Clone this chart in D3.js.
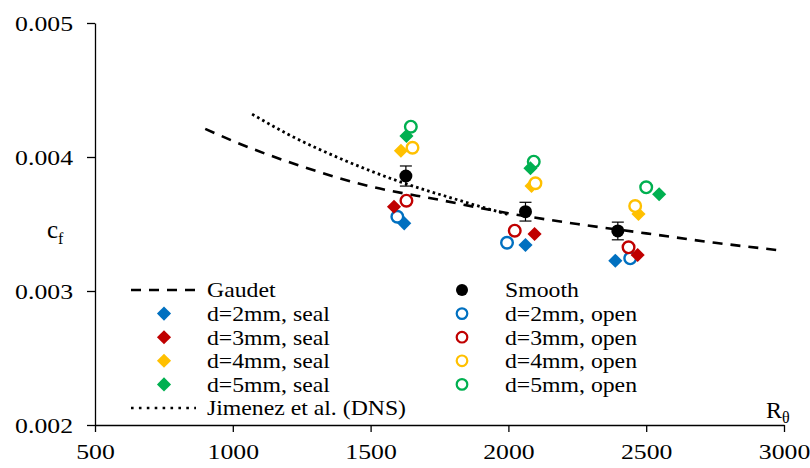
<!DOCTYPE html>
<html>
<head>
<meta charset="utf-8">
<script src="https://cdn.jsdelivr.net/npm/d3@7"></script>
<style>
  body { margin: 0; background: #fff; }
  svg text { font-family: "Liberation Serif", "DejaVu Serif", "Times New Roman", serif; fill: #000; }
</style>
</head>
<body>
<div id="container"></div>
<script>
/* CONSTANTS AND GLOBALS */
const width = 810, height = 468
const margin = { top: 23, bottom: 43, left: 95, right: 26 }

/* DATA */
const xTicks = [500, 1000, 1500, 2000, 2500, 3000]
const yTicks = [0.002, 0.003, 0.004, 0.005]

const gaudetRe = [900, 1000, 1250, 1500, 1750, 2000, 2250, 2500, 2750, 3000]
const gaudetCf = [0.00421, 0.00412, 0.00393, 0.00378, 0.00368, 0.00358, 0.00350, 0.00343, 0.00336, 0.00330]

const jimenezRe = [1070, 1200, 1400, 1600, 1800, 2000]
const jimenezCf = [0.00432, 0.00417, 0.00398, 0.00382, 0.00369, 0.00357]

const smoothRe = [1628, 2062, 2397]
const smoothCf = [0.003858, 0.003592, 0.003448]
const smoothErr = [0.000075, 0.00007, 0.000066]

const seal2Re = [1622, 2062, 2388], seal2Cf = [0.003505, 0.003343, 0.003226]
const seal3Re = [1585, 2095, 2469], seal3Cf = [0.003629, 0.003425, 0.003269]
const seal4Re = [1610, 2084, 2472], seal4Cf = [0.004047, 0.003784, 0.003575]
const seal5Re = [1630, 2080, 2547], seal5Cf = [0.004157, 0.003916, 0.003722]

const open2Re = [1597, 1995, 2442], open2Cf = [0.003554, 0.00336, 0.003244]
const open3Re = [1630, 2023, 2436], open3Cf = [0.003674, 0.00345, 0.003326]
const open4Re = [1652, 2098, 2460], open4Cf = [0.004069, 0.003804, 0.003634]
const open5Re = [1646, 2092, 2500], open5Cf = [0.004226, 0.003965, 0.003774]

const blue = "#0070C0", red = "#C00000", yellow = "#FFC000", green = "#00B050"

const zip = (xs, ys) => xs.map((x, i) => ({ x: x, y: ys[i] }))

// the reference text is wide (Times-like); stretch texts to match
function stretch(sel, factor) {
  sel.each(function () {
    const w = this.getComputedTextLength()
    d3.select(this).attr("textLength", w * factor).attr("lengthAdjust", "spacingAndGlyphs")
  })
}

/* SCALES */
const xScale = d3.scaleLinear().domain([500, 3000]).range([margin.left, width - margin.right])
const yScale = d3.scaleLinear().domain([0.002, 0.005]).range([height - margin.bottom, margin.top])

/* HTML ELEMENTS */
const svg = d3.select("#container").append("svg")
  .attr("width", width)
  .attr("height", height)

// axes
const xAxis = d3.axisBottom(xScale).tickValues(xTicks).tickSizeInner(7).tickSizeOuter(0)
  .tickPadding(11).tickFormat(d3.format("d"))
const yAxis = d3.axisLeft(yScale).tickValues(yTicks).tickSizeInner(8).tickSizeOuter(0)
  .tickPadding(14).tickFormat(d3.format(".3f"))

svg.append("g")
  .attr("transform", `translate(0,${height - margin.bottom})`)
  .call(xAxis)
svg.append("g")
  .attr("transform", `translate(${margin.left},0)`)
  .call(yAxis)

svg.selectAll(".domain, .tick line").attr("stroke", "#000").attr("stroke-width", 1.3)
const tickText = svg.selectAll(".tick text").attr("font-size", 22).attr("fill", "#000")
stretch(tickText, 1.17)

// axis titles
const cf = svg.append("text").attr("x", 47).attr("y", 238).attr("font-size", 25)
cf.append("tspan").text("c")
cf.append("tspan").attr("font-size", 16).attr("dy", 6).text("f")

const re = svg.append("text").attr("x", 766).attr("y", 418).attr("font-size", 24)
re.append("tspan").text("R")
re.append("tspan").attr("font-size", 16).attr("dy", 5).text("θ")

// lines
const line = d3.line().x(d => xScale(d.x)).y(d => yScale(d.y)).curve(d3.curveMonotoneX)

svg.append("path")
  .datum(zip(gaudetRe, gaudetCf))
  .attr("d", line)
  .attr("fill", "none").attr("stroke", "#000").attr("stroke-width", 2.6)
  .attr("stroke-dasharray", "10,8")

svg.append("path")
  .datum(zip(jimenezRe, jimenezCf))
  .attr("d", line)
  .attr("fill", "none").attr("stroke", "#000").attr("stroke-width", 2.8)
  .attr("stroke-dasharray", "2.6,3.2")

// smooth with error bars
const smooth = smoothRe.map((x, i) => ({ x: x, y: smoothCf[i], e: smoothErr[i] }))
const eb = svg.selectAll("g.err").data(smooth).join("g").attr("class", "err")
eb.append("line")
  .attr("x1", d => xScale(d.x)).attr("x2", d => xScale(d.x))
  .attr("y1", d => yScale(d.y + d.e)).attr("y2", d => yScale(d.y - d.e))
  .attr("stroke", "#000").attr("stroke-width", 1.2)
eb.selectAll("line.cap").data(d => [d.y + d.e, d.y - d.e].map(v => ({ x: d.x, v: v })))
  .join("line").attr("class", "cap")
  .attr("x1", d => xScale(d.x) - 6).attr("x2", d => xScale(d.x) + 6)
  .attr("y1", d => yScale(d.v)).attr("y2", d => yScale(d.v))
  .attr("stroke", "#000").attr("stroke-width", 1.2)

svg.selectAll("circle.smooth").data(smooth).join("circle")
  .attr("class", "smooth")
  .attr("cx", d => xScale(d.x)).attr("cy", d => yScale(d.y))
  .attr("r", 6.5).attr("fill", "#000")

// seal (diamonds) and open (rings)
const diamond = d3.symbol().type(d3.symbolSquare).size(100)

function drawSeal(xs, ys, color) {
  svg.append("g").selectAll("path").data(zip(xs, ys)).join("path")
    .attr("d", diamond)
    .attr("transform", d => `translate(${xScale(d.x)},${yScale(d.y)}) rotate(45)`)
    .attr("fill", color)
}
function drawOpen(xs, ys, color) {
  svg.append("g").selectAll("circle").data(zip(xs, ys)).join("circle")
    .attr("cx", d => xScale(d.x)).attr("cy", d => yScale(d.y))
    .attr("r", 5.8)
    .attr("fill", "#fff").attr("stroke", color).attr("stroke-width", 2.4)
}

drawOpen(open2Re, open2Cf, blue)
drawSeal(seal2Re, seal2Cf, blue)
drawSeal(seal3Re, seal3Cf, red)
drawOpen(open3Re, open3Cf, red)
drawSeal(seal4Re, seal4Cf, yellow)
drawOpen(open4Re, open4Cf, yellow)
drawOpen(open5Re, open5Cf, green)
drawSeal(seal5Re, seal5Cf, green)

/* LEGEND */
const rowY = [290, 313.6, 337.2, 360.8, 384.4, 408]
const leftLabels = ["Gaudet", "d=2mm, seal", "d=3mm, seal", "d=4mm, seal", "d=5mm, seal", "Jimenez et al. (DNS)"]
const rightLabels = ["Smooth", "d=2mm, open", "d=3mm, open", "d=4mm, open", "d=5mm, open"]
const legendColors = [blue, red, yellow, green]

const legend = svg.append("g")
const lt = legend.selectAll("text.left").data(leftLabels).join("text")
  .attr("class", "left")
  .attr("x", 207).attr("y", (d, i) => rowY[i]).attr("dy", "0.35em")
  .attr("font-size", 21).text(d => d)
const rt = legend.selectAll("text.right").data(rightLabels).join("text")
  .attr("class", "right")
  .attr("x", 505).attr("y", (d, i) => rowY[i]).attr("dy", "0.35em")
  .attr("font-size", 21).text(d => d)
stretch(lt, 1.13)
stretch(rt, 1.13)

legend.append("line").attr("x1", 131).attr("x2", 196).attr("y1", rowY[0]).attr("y2", rowY[0])
  .attr("stroke", "#000").attr("stroke-width", 2.6).attr("stroke-dasharray", "10,8")
legend.append("line").attr("x1", 131).attr("x2", 196).attr("y1", rowY[5]).attr("y2", rowY[5])
  .attr("stroke", "#000").attr("stroke-width", 2.6).attr("stroke-dasharray", "2.6,5.3")

legend.selectAll("path.ld").data(legendColors).join("path")
  .attr("class", "ld")
  .attr("d", diamond)
  .attr("transform", (d, i) => `translate(164,${rowY[i + 1]}) rotate(45)`)
  .attr("fill", d => d)
legend.append("circle").attr("cx", 462).attr("cy", rowY[0]).attr("r", 6).attr("fill", "#000")
legend.selectAll("circle.lo").data(legendColors).join("circle")
  .attr("class", "lo")
  .attr("cx", 462).attr("cy", (d, i) => rowY[i + 1]).attr("r", 5.3)
  .attr("fill", "#fff").attr("stroke", d => d).attr("stroke-width", 2.2)
</script>
</body>
</html>
